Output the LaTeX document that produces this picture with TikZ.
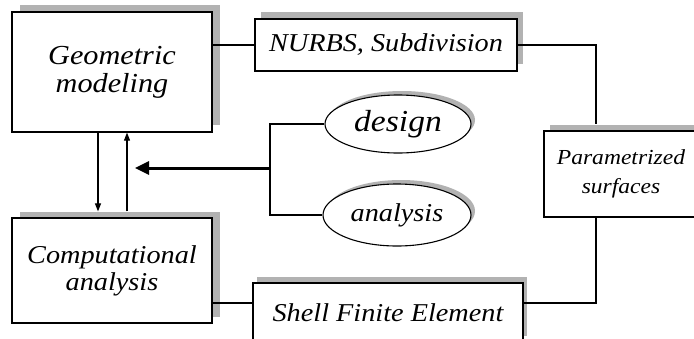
\documentclass[tikz,border=0pt]{standalone}
\usepackage{fontspec}
\setmainfont{Liberation Serif}
\newfontfamily\wf[FakeStretch=1.1]{Liberation Serif}
\usetikzlibrary{shapes.geometric,shadows,arrows.meta,calc}
\begin{document}
\begin{tikzpicture}[x=1pt,y=-1pt,
  box/.style={draw=black, line width=1.3pt, fill=white, rectangle, inner sep=0pt,
    align=center, font=\wf\itshape\fontsize{25.7}{27}\selectfont},
  oval/.style={draw=black, line width=1.1pt, fill=white, ellipse, inner sep=0pt,
    font=\wf\itshape\fontsize{25.7}{27}\selectfont},
  shad/.style 2 args={drop shadow={shadow xshift=#1, shadow yshift=#2, opacity=1, fill=gray!60}},
  conn/.style={line width=1.1pt, draw=black},
  thin arrow/.style={conn, -{Triangle[length=8pt,width=6pt]}},
  thick arrow/.style={line width=3pt, -{Triangle[length=14pt,width=13pt]}}]
\useasboundingbox (0,0) rectangle (694,338);
\clip (0,0) rectangle (694,338);
\fill[white] (0,0) rectangle (694,338);

\node[box, shad={8pt}{7pt}, minimum width=200pt, minimum height=120pt,
  font=\wf\itshape\fontsize{27.5}{28}\selectfont] (gm) at (112,72) {Geometric\\modeling};
\node[box, shad={8pt}{6pt}, minimum width=200pt, minimum height=105pt] (ca) at (112,270.5) {Computational\\analysis};
\node[box, shad={6pt}{7pt}, minimum width=262pt, minimum height=52pt] (nurbs) at (386,45) {NURBS, Subdivision};
\node[box, shad={6pt}{6pt}, minimum width=154pt, minimum height=86pt,
  font=\wf\itshape\fontsize{21.4}{29}\selectfont] (param) at (621,174) {Parametrized\\surfaces};
\node[box, shad={4pt}{6pt}, minimum width=270pt, minimum height=59pt] (shell) at (388,312.5) {Shell Finite Element};
\node[oval, shad={4pt}{4pt}, minimum width=146pt, minimum height=58pt,
  font=\wf\itshape\fontsize{30.5}{30}\selectfont] (design) at (398,124) {design};
\node[oval, shad={4pt}{4pt}, minimum width=148pt, minimum height=62pt] (analysis) at (397,215) {analysis};

\coordinate (pc) at (596,0);
\coordinate (sy) at (0,303);
\coordinate (vx) at (270,0);
\coordinate (ay) at (0,168);
\coordinate (tip) at (135,168);

\draw[conn] (gm.east |- nurbs.west) -- (nurbs.west);
\draw[conn] (nurbs.east) -| ($(pc |- param.north)+(0,-6)$);
\draw[conn] (param.south -| pc) |- (shell.east |- sy);
\draw[conn] (ca.east |- sy) -- (shell.west |- sy);

\draw[thin arrow] (gm.south -| 98,0) -- ($(ca.north -| 98,0)+(0,-6)$);
\draw[thin arrow] ($(ca.north -| 127,0)+(0,-6)$) -- (gm.south -| 127,0);

\draw[conn] (design.west) -| (vx |- analysis.west) -- (analysis.west);
\draw[thick arrow] (vx |- ay) -- (tip);
\end{tikzpicture}
\end{document}
